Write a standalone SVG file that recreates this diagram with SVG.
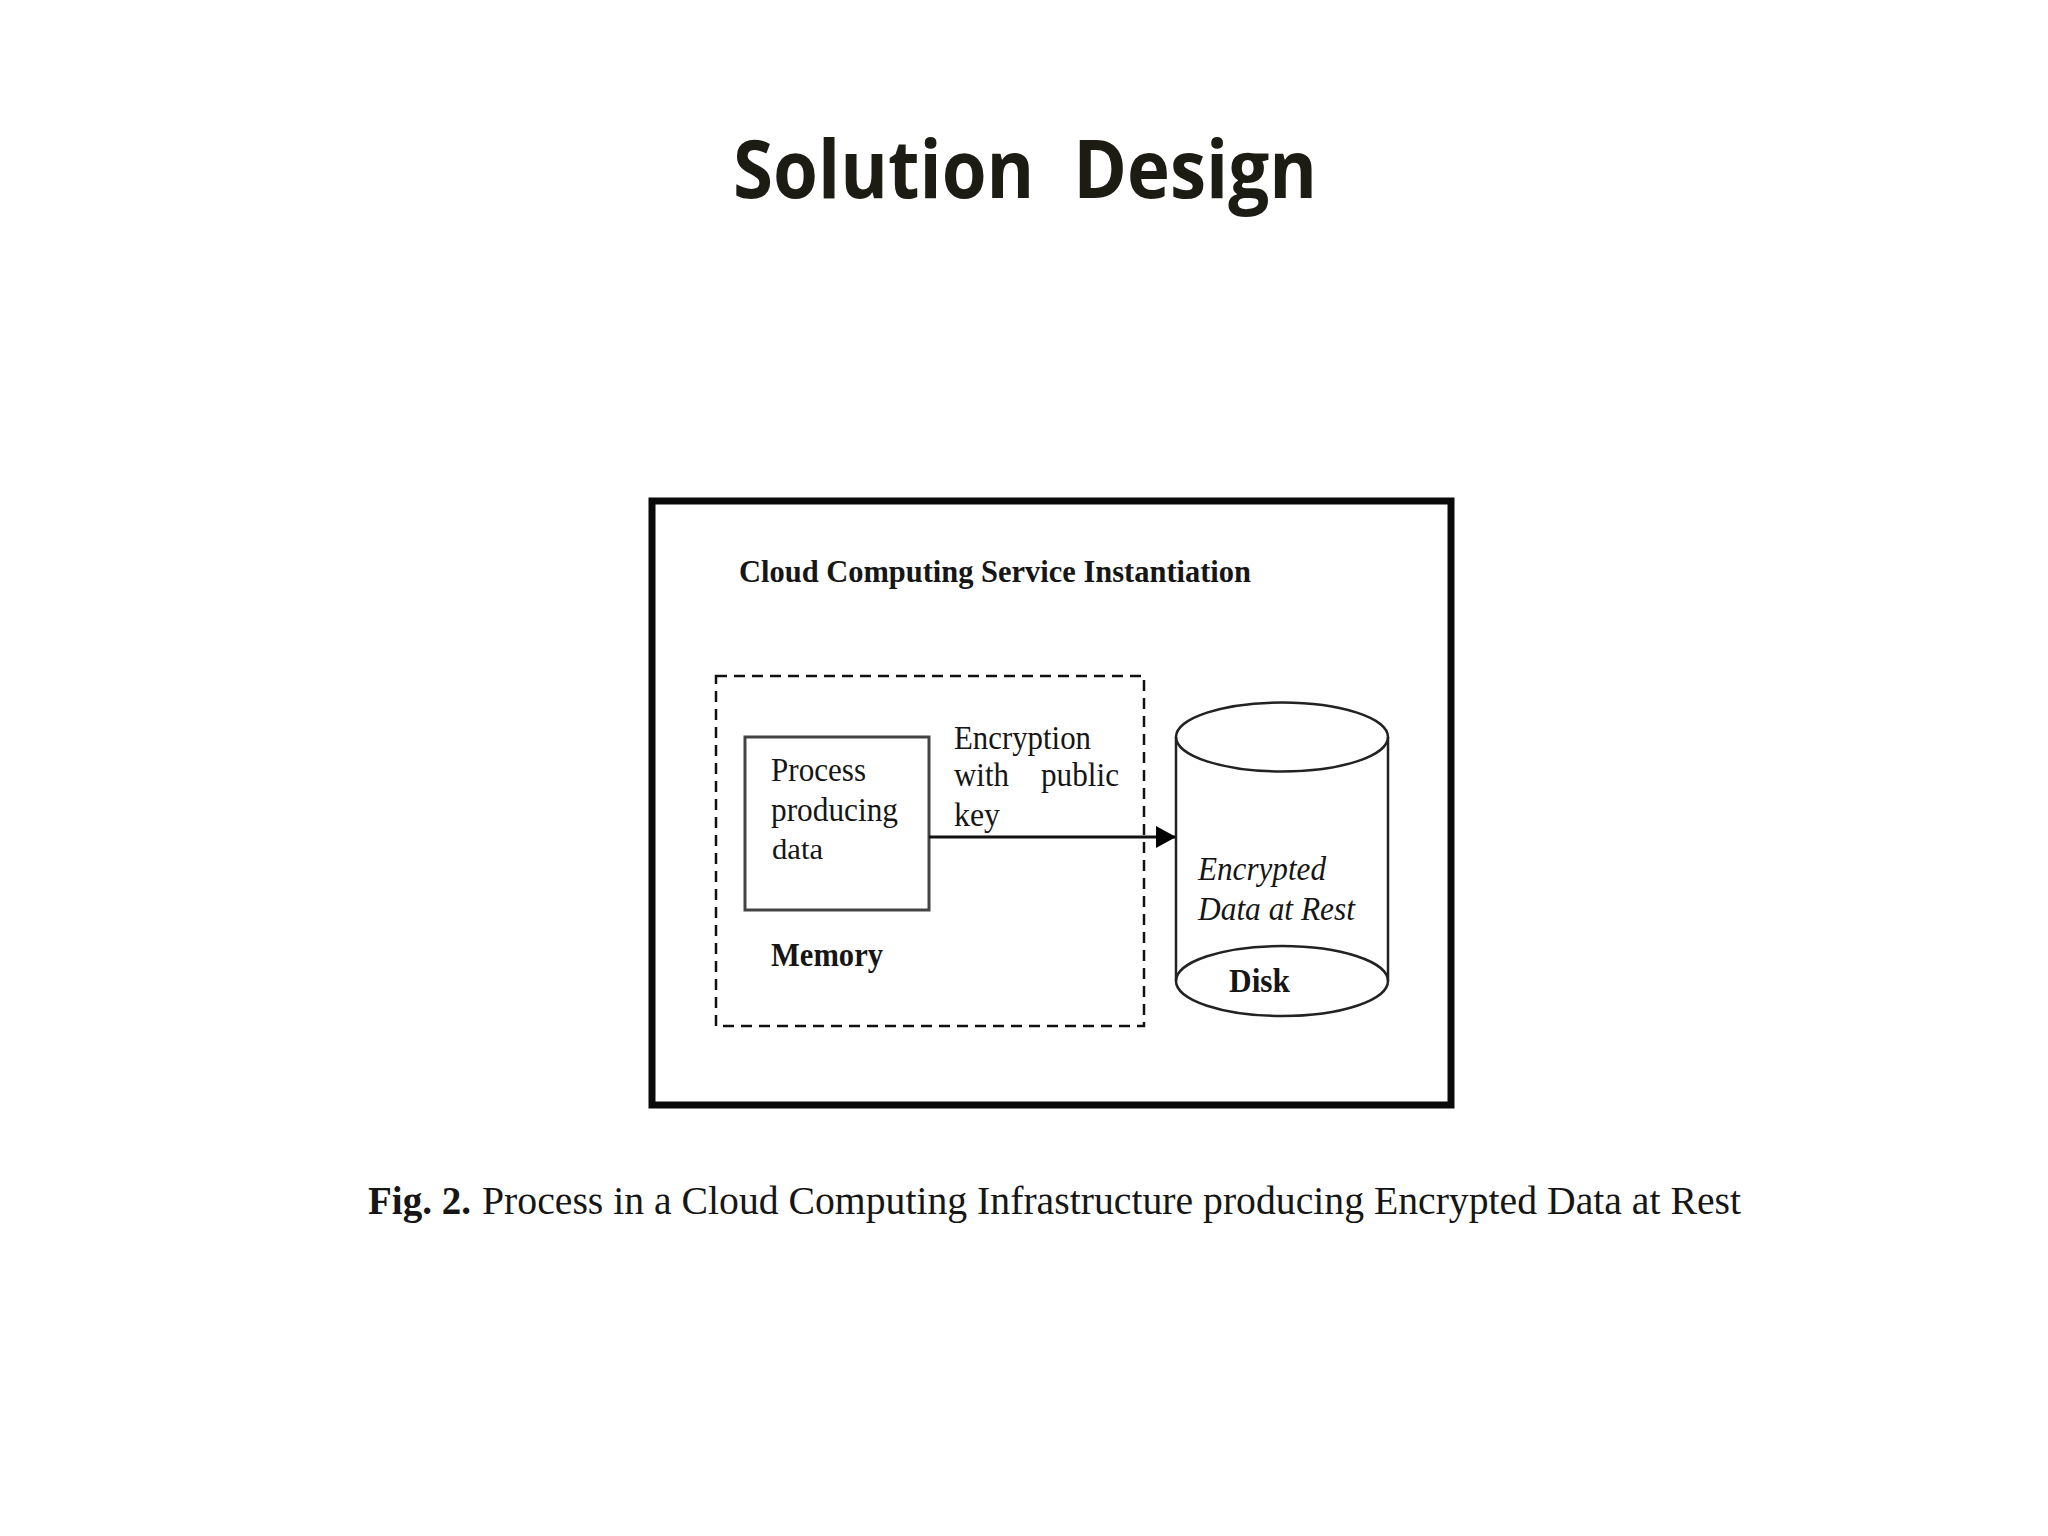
<svg xmlns="http://www.w3.org/2000/svg" width="2048" height="1536" viewBox="0 0 2048 1536">
<style>
text{font-family:"Liberation Serif","Times New Roman",serif;fill:#161616}
.t{font-size:33px}
.b{font-weight:bold}
.i{font-style:italic}
.s{fill:none;stroke:#222;stroke-width:2.5}
</style>
<defs><marker id="ah" markerUnits="userSpaceOnUse" markerWidth="20" markerHeight="22" refX="19" refY="11" orient="auto"><path d="M0 0L20 11L0 22Z" fill="#000"/></marker></defs>
<rect width="2048" height="1536" fill="#fff"/>
<text id="title" x="733" y="198" textLength="584" lengthAdjust="spacingAndGlyphs" word-spacing="22" style="font-family:'Open Sans','Noto Sans',sans-serif;font-weight:bold;font-size:80px;fill:#1c1c14">Solution Design</text>
<g id="service"><rect x="652" y="501" width="799" height="604" fill="#fff" stroke="#0a0a0a" stroke-width="7"/>
<text x="739" y="582" class="b" font-size="32" textLength="512" lengthAdjust="spacingAndGlyphs">Cloud Computing Service Instantiation</text></g>
<g id="memory"><rect x="716" y="676" width="428" height="350" fill="none" stroke="#111" stroke-width="2.5" stroke-dasharray="11 7"/>
<text x="771" y="966" class="t b" textLength="112" lengthAdjust="spacingAndGlyphs">Memory</text></g>
<g id="process"><rect x="745" y="737" width="184" height="173" fill="#fff" stroke="#444" stroke-width="3"/>
<text x="771" y="781" class="t" textLength="95" lengthAdjust="spacingAndGlyphs">Process</text>
<text x="771" y="821" class="t" textLength="127" lengthAdjust="spacingAndGlyphs">producing</text>
<text x="772" y="859" font-size="29" textLength="51" lengthAdjust="spacingAndGlyphs">data</text></g>
<g id="disk"><path class="s" d="M1176 737V981M1388 737V981"/>
<ellipse class="s" cx="1282" cy="737" rx="106" ry="34.5"/>
<ellipse class="s" cx="1282" cy="981" rx="106" ry="35"/>
<text x="1198" y="880" class="t i" textLength="128" lengthAdjust="spacingAndGlyphs">Encrypted</text>
<text x="1198" y="920" class="t i" textLength="157" lengthAdjust="spacingAndGlyphs">Data at Rest</text>
<text x="1229" y="992" class="t b" textLength="61" lengthAdjust="spacingAndGlyphs">Disk</text></g>
<g id="connectors"><line x1="929" y1="837" x2="1175" y2="837" stroke="#111" stroke-width="3" marker-end="url(#ah)"/></g>
<g id="arrow-label"><text x="954" y="749" class="t" textLength="137" lengthAdjust="spacingAndGlyphs">Encryption</text>
<text x="954" y="786" class="t" textLength="55" lengthAdjust="spacingAndGlyphs">with</text>
<text x="1041" y="786" class="t" textLength="78" lengthAdjust="spacingAndGlyphs">public</text>
<text x="954" y="826" class="t" textLength="46" lengthAdjust="spacingAndGlyphs">key</text></g>
<text id="caption-a" x="368" y="1214" class="b" font-size="40" textLength="103" lengthAdjust="spacingAndGlyphs">Fig. 2.</text>
<text id="caption-b" x="482" y="1214" font-size="40" textLength="1259" lengthAdjust="spacingAndGlyphs">Process in a Cloud Computing Infrastructure producing Encrypted Data at Rest</text>
</svg>
